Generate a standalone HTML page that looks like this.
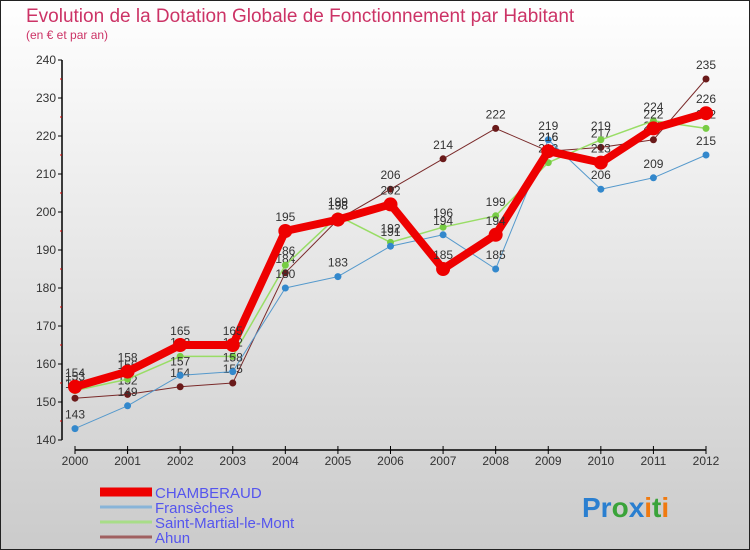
<!DOCTYPE html>
<html><head><meta charset="utf-8"><style>
body{margin:0}
#wrap{width:750px;height:550px;position:relative;overflow:hidden;font-family:"Liberation Sans",sans-serif}
svg text{font-family:"Liberation Sans",sans-serif}
</style></head><body>
<div id="wrap">
<svg id="chart" width="750" height="550">
<defs><linearGradient id="bg" x1="0" y1="0" x2="0" y2="1"><stop offset="0" stop-color="#ffffff"/><stop offset="1" stop-color="#cbcbcb"/></linearGradient></defs>
<rect x="0.5" y="0.5" width="749" height="549" fill="url(#bg)" stroke="#222"/>
<text x="26" y="22" font-size="19" fill="#cc3366">Evolution de la Dotation Globale de Fonctionnement par Habitant</text>
<text x="26" y="39" font-size="12" fill="#cc3366">(en € et par an)</text>
<g id="axes"></g><g id="series"></g><g id="legend"></g>
<g font-size="28" font-weight="bold">
<text x="582" y="517"><tspan fill="#2a7fd0">Pr</tspan><tspan fill="#3aa33a">o</tspan><tspan fill="#2a7fd0">x</tspan><tspan fill="#f07a10">i</tspan><tspan fill="#3aa33a">t</tspan><tspan fill="#f07a10">i</tspan></text>
</g>
</svg>
</div>
<script>
const years=[2000,2001,2002,2003,2004,2005,2006,2007,2008,2009,2010,2011,2012];
const yTicks=[140,150,160,170,180,190,200,210,220,230,240];
const chamberaud=[154,158,165,165,195,198,202,185,194,216,213,222,226];
const fransecches=[143,149,157,158,180,183,191,194,185,219,206,209,215];
const saintMartial=[153,156,162,162,186,199,192,196,199,213,219,224,222];
const ahun=[151,152,154,155,184,198,206,214,222,216,217,219,235];
const NS="http://www.w3.org/2000/svg";
const xS=i=>75+i*(706-75)/(years.length-1);
const yS=v=>440-(v-140)*3.8;
function mk(tag,attrs,parent){const e=document.createElementNS(NS,tag);for(const k in attrs)e.setAttribute(k,attrs[k]);parent.appendChild(e);return e;}
const ax=document.getElementById('axes');
let yl=mk('line',{x1:62,y1:yS(240),x2:62,y2:yS(140),stroke:'#000','stroke-width':1.5},ax);


yTicks.forEach(t=>{
 let l=mk('line',{x1:58,x2:62,y1:yS(t),y2:yS(t),stroke:'#000'},ax);
 
 
 let tx=mk('text',{x:56,y:yS(t)+4,'font-size':12,'text-anchor':'end',fill:'#333'},ax);tx.textContent=t;
 
 
 if(t<240){let m=mk('line',{x1:60,x2:62,y1:yS(t+5),y2:yS(t+5),stroke:'#d00'},ax);
 
 }
});
let xl=mk('line',{x1:75,y1:450,x2:706,y2:450,stroke:'#000','stroke-width':1.5},ax);


years.forEach((y,i)=>{
 let l=mk('line',{x1:xS(i),x2:xS(i),y1:446,y2:454,stroke:'#000'},ax);
 
 
 let tx=mk('text',{x:xS(i),y:465,'font-size':12,'text-anchor':'middle',fill:'#333'},ax);tx.textContent=y;
 
 
});
const sg=document.getElementById('series');
const defs=[
 {d:ahun,c:'#7a2a2a',pc:'#6a1a1a',w:1,r:3.5,n:'ahun'},
 {d:saintMartial,c:'#99dd66',pc:'#77cc44',w:1.5,r:3.5,n:'saint-martial-le-mont'},
 {d:fransecches,c:'#5599cc',pc:'#3388cc',w:1,r:3.5,n:'fransecches'},
 {d:chamberaud,c:'#ee0000',pc:'#ee0000',w:8,r:7,n:'chamberaud'}];
defs.forEach(s=>{
 let p=mk('polyline',{points:s.d.map((v,i)=>xS(i)+','+yS(v)).join(' '),fill:'none',stroke:s.c,'stroke-width':s.w,'stroke-linejoin':'round'},sg);
 
 
 s.d.forEach((v,i)=>{
  let c=mk('circle',{cx:xS(i),cy:yS(v),r:s.r,fill:s.pc},sg);
  
  
  let t=mk('text',{x:xS(i),y:yS(v)-10,'font-size':12,'text-anchor':'middle',fill:'#333'},sg);t.textContent=v;
  
  
 });
});
const lg=document.getElementById('legend');
const names=['CHAMBERAUD','Fransèches','Saint-Martial-le-Mont','Ahun'];
const lc=['#ee0000','#88b4d8','#a8dd88','#a06060'];
const lw=[9,3,3,3];
names.forEach((n,i)=>{
 const y=492+i*15;
 let r=mk('rect',{x:100,y:y-lw[i]/2,width:52,height:lw[i],fill:lc[i]},lg);
 
 
 let t=mk('text',{x:155,y:y+6,'font-size':15,fill:'#5555ee'},lg);t.textContent=n;
 
 
});
</script>
</body></html>
